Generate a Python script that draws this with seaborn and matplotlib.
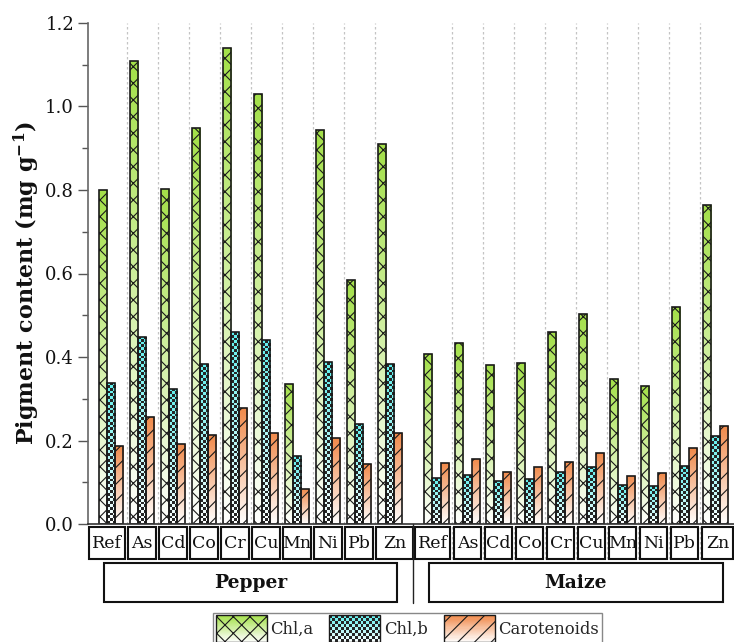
import numpy as np
import pandas as pd
import matplotlib
matplotlib.use("Agg")
import matplotlib.pyplot as plt
import matplotlib.transforms as mtransforms
from matplotlib.patches import Rectangle, Patch
from matplotlib.legend_handler import HandlerBase
from matplotlib.ticker import MultipleLocator, FormatStrFormatter
from matplotlib.colors import to_rgb
import seaborn as sns

# ---- data (mg g-1)
metals = ["Ref", "As", "Cd", "Co", "Cr", "Cu", "Mn", "Ni", "Pb", "Zn"]
crops = ["Pepper", "Maize"]
pigments = ["Chl,a", "Chl,b", "Carotenoids"]

pepper_chl_a = [0.799, 1.108, 0.803, 0.948, 1.141, 1.031, 0.336, 0.944, 0.584, 0.910]
pepper_chl_b = [0.338, 0.448, 0.324, 0.383, 0.459, 0.440, 0.162, 0.388, 0.240, 0.383]
pepper_car = [0.187, 0.257, 0.192, 0.213, 0.278, 0.218, 0.085, 0.206, 0.144, 0.218]

maize_chl_a = [0.406, 0.433, 0.380, 0.385, 0.460, 0.504, 0.348, 0.330, 0.520, 0.765]
maize_chl_b = [0.109, 0.117, 0.103, 0.107, 0.125, 0.137, 0.094, 0.091, 0.138, 0.211]
maize_car = [0.145, 0.156, 0.125, 0.137, 0.149, 0.169, 0.116, 0.122, 0.181, 0.235]

# maize block starts half a slot after the pepper block
crop_offset = {"Pepper": 0.0, "Maize": 10.5}

series = {
    "Pepper": (pepper_chl_a, pepper_chl_b, pepper_car),
    "Maize": (maize_chl_a, maize_chl_b, maize_car),
}
rows = []
for crop in crops:
    for pig, vals in zip(pigments, series[crop]):
        for i, m in enumerate(metals):
            rows.append({"crop": crop, "metal": m, "pos": crop_offset[crop] + i,
                         "pigment": pig, "value": vals[i]})
df = pd.DataFrame(rows)

top_colors = {"Chl,a": "#a3e048", "Chl,b": "#5ef0ee", "Carotenoids": "#f08848"}
hatches = {"Chl,a": "xx", "Chl,b": None, "Carotenoids": "//"}
dark = "#262626"


def fade(rgb, t):
    # t = 1 -> full colour (top), t = 0 -> white (bottom)
    return tuple(np.array(rgb) * t + (1 - t))


sns.set_theme(style="white")
plt.rcParams["font.family"] = ["DejaVu Serif"]
plt.rcParams["mathtext.fontset"] = "dejavuserif"
plt.rcParams["hatch.linewidth"] = 0.8

W, H = 734, 642
fig = plt.figure(figsize=(W / 100, H / 100), dpi=100)
ax = fig.add_axes([88 / W, (H - 524) / H, (W - 88) / W, 501 / H])

sns.barplot(data=df, x="pos", y="value", hue="pigment", hue_order=pigments,
            palette=top_colors, native_scale=True, width=0.8, errorbar=None,
            saturation=1, edgecolor="#1a1a1a", linewidth=1.2, legend=False, ax=ax)

xmin = -23 / 31
xmax = xmin + 646 / 31
ax.set_xlim(xmin, xmax)
ax.set_ylim(0, 1.2)

# gradient fills (and checker pattern for Chl,b) clipped to each bar
cell = 2.8 / (501 / 1.2)
for pig, cont in zip(pigments, ax.containers):
    rgb = to_rgb(top_colors[pig])
    for bar in cont:
        x0, w, h = bar.get_x(), bar.get_width(), bar.get_height()
        if pig == "Chl,b":
            nr = max(int(round(h / cell)), 1)
            t = (np.arange(nr) + 0.5) / nr
            img = np.ones((nr, 3, 3))
            for c in range(3):
                img[:, c, :] = np.array([fade(rgb, tt) for tt in t])
            rr, cc = np.indices((nr, 3))
            img[(rr + cc) % 2 == 0] = to_rgb(dark)
        else:
            nr = 200
            t = (np.arange(nr) + 0.5) / nr
            img = np.array([fade(rgb, tt) for tt in t]).reshape(nr, 1, 3)
        im = ax.imshow(img, extent=[x0, x0 + w, 0, h], origin="lower",
                       aspect="auto", interpolation="nearest", zorder=1.5)
        im.set_clip_path(bar)
        bar.set_facecolor("none")
        bar.set_zorder(2)
        if hatches[pig]:
            bar.set_hatch(hatches[pig])

ax.set_xlim(xmin, xmax)
ax.set_ylim(0, 1.2)

# axes styling
ax.set_xticks([])
ax.set_xlabel("")
ax.yaxis.set_major_locator(MultipleLocator(0.2))
ax.yaxis.set_minor_locator(MultipleLocator(0.1))
ax.yaxis.set_major_formatter(FormatStrFormatter("%.1f"))
ax.tick_params(axis="y", which="major", left=True, direction="out", length=7,
               width=1.0, color="#555555", labelsize=13, pad=3, labelcolor="#111111")
ax.tick_params(axis="y", which="minor", left=True, direction="out", length=4,
               width=1.0, color="#555555")
for s in ["top", "right"]:
    ax.spines[s].set_visible(False)
ax.spines["left"].set_color("#666666")
ax.spines["left"].set_linewidth(1.2)
ax.spines["bottom"].set_color("#333333")
ax.spines["bottom"].set_linewidth(1.2)

ax.set_ylabel(r"Pigment content (mg g$^{\mathbf{-1}}$)", fontsize=16,
              fontweight="bold", color="#111111")
ax.yaxis.set_label_coords(-0.094, 0.48)
ax.yaxis.label.set_verticalalignment("center")

# category / crop boxes under the axis
trans = mtransforms.blended_transform_factory(ax.transData, ax.transAxes)
box_top, box_bot = -3 / 501, -35 / 501
grp_top, grp_bot = -39 / 501, -78 / 501
split = 9.75
bounds = {"Pepper": (xmin + 0.03, split - 0.01), "Maize": (split + 0.06, xmax - 0.02)}
inset = 0.05

for crop in crops:
    off = crop_offset[crop]
    for i in range(9):
        ax.plot([off + i + 0.5] * 2, [box_bot, 1], transform=trans, color="#c4c4c4",
                lw=0.9, ls=(0, (2, 2)), clip_on=False, zorder=0.5)
    for i, m in enumerate(metals):
        left = off + i - 0.5 + inset
        right = off + i + 0.5 - inset
        if i == 0:
            left = bounds[crop][0]
        if i == len(metals) - 1:
            right = bounds[crop][1]
        ax.add_patch(Rectangle((left, box_bot), right - left, box_top - box_bot,
                               transform=trans, fill=False, ec="#111111", lw=1.5,
                               clip_on=False))
        ax.text((left + right) / 2, (box_top + box_bot) / 2, m, transform=trans,
                ha="center", va="center", fontsize=12.5, color="#111111")
    gl, gr = off - 0.24, off + 9.23
    ax.add_patch(Rectangle((gl, grp_bot), gr - gl, grp_top - grp_bot, transform=trans,
                           fill=False, ec="#111111", lw=1.5, clip_on=False))
    ax.text((gl + gr) / 2, (grp_top + grp_bot) / 2, crop, transform=trans,
            ha="center", va="center", fontsize=13.5, fontweight="bold", color="#111111")

ax.plot([split, split], [0, -79 / 501], transform=trans, color="#222222", lw=1.0,
        clip_on=False)


# legend with gradient swatches
class BarSwatch(HandlerBase):
    def __init__(self, pig):
        super().__init__()
        self.pig = pig

    def create_artists(self, legend, orig_handle, xdescent, ydescent, width, height,
                       fontsize, trans):
        rgb = to_rgb(top_colors[self.pig])
        x0, y0 = -xdescent, -ydescent
        arts = []
        n = 24
        for k in range(n):
            t = (k + 0.5) / n
            arts.append(Rectangle((x0, y0 + height * k / n), width, height / n * 1.05,
                                  facecolor=fade(rgb, t), edgecolor="none", lw=0,
                                  transform=trans))
        if self.pig == "Chl,b":
            nc = int(width / 2.0)
            nr = int(height / 2.0)
            cw, ch = width / nc, height / nr
            for r in range(nr):
                for c in range(nc):
                    if (r + c) % 2 == 0:
                        arts.append(Rectangle((x0 + c * cw, y0 + r * ch), cw, ch,
                                              facecolor=dark, edgecolor="none", lw=0,
                                              transform=trans))
        arts.append(Rectangle((x0, y0), width, height, facecolor="none",
                              edgecolor="#1a1a1a", lw=1.0, hatch=hatches[self.pig],
                              transform=trans))
        return arts


handles = [Patch(label=p) for p in pigments]
handler_map = {h: BarSwatch(p) for h, p in zip(handles, pigments)}
leg_fs = 11.8
# legend shrinks the swatch by a descent term; solve for a ~19.5 pt tall swatch
hh = (19.5 / leg_fs - 0.245) / 0.65
fig.legend(handles, pigments, handler_map=handler_map, loc="upper left",
           bbox_to_anchor=(213.3 / W, 1 - 612.5 / H), ncol=3, fontsize=leg_fs,
           handlelength=36.7 / leg_fs, handleheight=hh,
           handletextpad=2.6 / leg_fs, columnspacing=11.5 / leg_fs,
           borderpad=1.8 / leg_fs, borderaxespad=0, fancybox=False,
           edgecolor="#888888", framealpha=1)

fig.savefig("out.png", dpi=100, facecolor="white")
